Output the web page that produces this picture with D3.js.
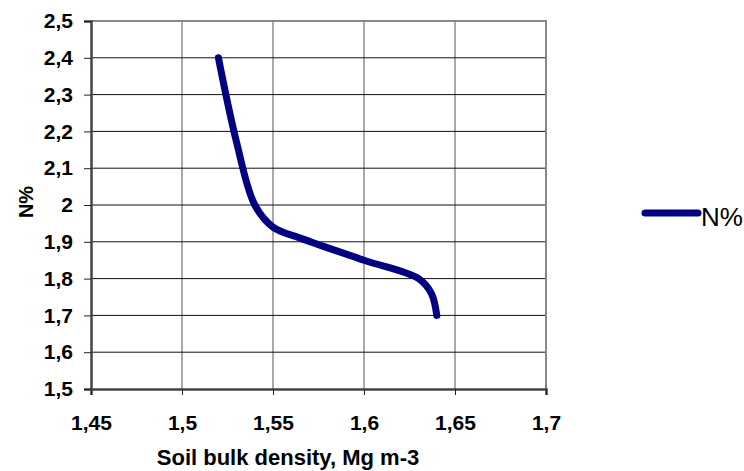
<!DOCTYPE html>
<html>
<head>
<meta charset="utf-8">
<script src="https://cdn.jsdelivr.net/npm/d3@7"></script>
<style>
  body { margin: 0; background: #fff; }
  text { font-family: "Liberation Sans", Arial, sans-serif; }
</style>
</head>
<body>
<div id="chart"></div>
<script>
// data
var density = [1.52, 1.53, 1.54, 1.55, 1.565, 1.6, 1.63, 1.637, 1.64];
var nPercent = [2.4, 2.17, 2.0, 1.94, 1.91, 1.85, 1.8, 1.76, 1.7];
var xTicks = [1.45, 1.5, 1.55, 1.6, 1.65, 1.7];
var yTicks = [1.5, 1.6, 1.7, 1.8, 1.9, 2.0, 2.1, 2.2, 2.3, 2.4, 2.5];
var seriesName = "N%";

var svgWidth = 744;
var svgHeight = 471;

var margin = { top: 21, right: 198, bottom: 82, left: 91 };
var width = svgWidth - margin.left - margin.right;
var height = svgHeight - margin.top - margin.bottom;

var svg = d3.select("#chart")
    .append("svg")
    .attr("width", svgWidth)
    .attr("height", svgHeight);

var chartGroup = svg.append("g")
    .attr("transform", `translate(${margin.left}, ${margin.top})`);

var xScale = d3.scaleLinear().domain([1.45, 1.7]).range([0, width]);
var yScale = d3.scaleLinear().domain([1.5, 2.5]).range([height, 0]);

// comma decimals
var fmt = d => String(+d.toFixed(2)).replace(".", ",");

// gridlines
chartGroup.append("g")
    .selectAll("line")
    .data(xTicks.slice(1, -1))
    .enter()
    .append("line")
    .attr("x1", d => xScale(d))
    .attr("x2", d => xScale(d))
    .attr("y1", 0)
    .attr("y2", height)
    .attr("stroke", "#555")
    .attr("stroke-width", 1);

chartGroup.append("g")
    .selectAll("line")
    .data(yTicks.slice(1, -1))
    .enter()
    .append("line")
    .attr("x1", 0)
    .attr("x2", width)
    .attr("y1", d => yScale(d))
    .attr("y2", d => yScale(d))
    .attr("stroke", "#111")
    .attr("stroke-width", 1);

// top and right border
chartGroup.append("path")
    .attr("d", `M0,0H${width}V${height}`)
    .attr("fill", "none")
    .attr("stroke", "#888")
    .attr("stroke-width", 2);

// axes
var bottomAxis = d3.axisBottom(xScale)
    .tickValues(xTicks)
    .tickSize(6)
    .tickPadding(20)
    .tickFormat(fmt);

var leftAxis = d3.axisLeft(yScale)
    .tickValues(yTicks)
    .tickSize(7)
    .tickPadding(11)
    .tickFormat(fmt);

var xAxis = chartGroup.append("g")
    .attr("transform", `translate(0, ${height})`)
    .call(bottomAxis);

var yAxis = chartGroup.append("g")
    .call(leftAxis);

[xAxis, yAxis].forEach(function(ax) {
    ax.select(".domain").attr("stroke", "#444").attr("stroke-width", 2.5);
    ax.selectAll(".tick line").attr("stroke", "#222");
    ax.selectAll(".tick text")
        .attr("fill", "#000")
        .attr("font-size", "21px")
        .attr("font-weight", "bold")
        .style("font-family", "'Liberation Sans', Arial, sans-serif");
});

// curve
var line = d3.line()
    .x((d, i) => xScale(density[i]))
    .y(d => yScale(d))
    .curve(d3.curveCatmullRom.alpha(0.5));

chartGroup.append("path")
    .datum(nPercent)
    .attr("d", line)
    .attr("fill", "none")
    .attr("stroke", "#000080")
    .attr("stroke-width", 7)
    .attr("stroke-linecap", "round")
    .attr("stroke-linejoin", "round");

// axis titles
svg.append("text")
    .attr("x", 288)
    .attr("y", 465)
    .attr("text-anchor", "middle")
    .attr("font-size", "22px")
    .attr("font-weight", "bold")
    .text("Soil bulk density, Mg m-3");

svg.append("text")
    .attr("transform", "translate(33, 202) rotate(-90)")
    .attr("text-anchor", "middle")
    .attr("font-size", "20px")
    .attr("font-weight", "bold")
    .text(seriesName);

// legend
var legend = svg.append("g").attr("transform", "translate(645, 213)");
legend.append("line")
    .attr("x1", 0)
    .attr("x2", 53)
    .attr("stroke", "#000080")
    .attr("stroke-width", 7)
    .attr("stroke-linecap", "round");
legend.append("text")
    .attr("x", 56)
    .attr("y", 13)
    .attr("font-size", "26px")
    .text(seriesName);
</script>
</body>
</html>
